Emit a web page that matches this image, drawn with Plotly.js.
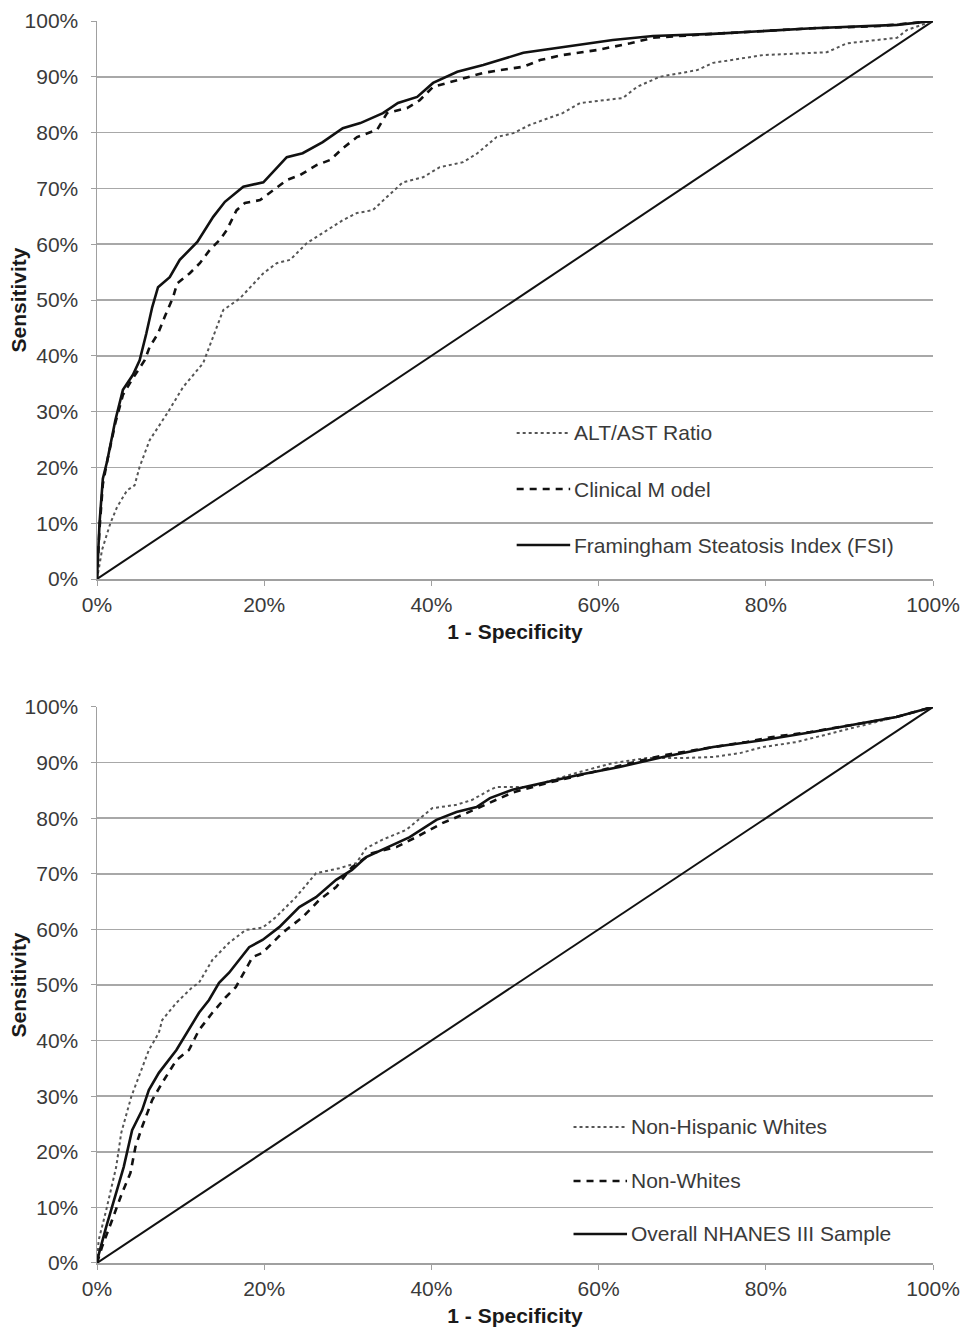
<!DOCTYPE html>
<html><head><meta charset="utf-8">
<script src="https://cdn.plot.ly/plotly-3.0.1.min.js"></script>
<style>body{margin:0;background:#fff}#c{width:966px;height:1332px}</style>
</head><body><div id="c"></div>
<script>
// ---- Top panel data (1 - specificity %, sensitivity %) ----
const fsiX = [0,0.3,0.7,1.2,2.2,3.1,4.3,5.1,5.9,6.6,7.3,8.7,9.9,12,13.9,15.3,17.5,19.9,22.7,24.6,27,29.4,31.5,34.2,36,38.3,40.2,43.1,46.2,49.2,51,53.3,57,61.7,66.5,73.7,85.6,95.7,100];
const fsiY = [0,10,18,21,28.5,33.9,36.6,39.2,44,48.7,52.3,54.1,57.2,60.4,64.9,67.6,70.3,71.1,75.6,76.3,78.3,80.8,81.7,83.5,85.3,86.4,88.9,90.9,92.1,93.5,94.3,94.8,95.6,96.6,97.3,97.7,98.7,99.3,100];
const cliX = [0,0.3,0.7,1.2,2.2,3.1,4.3,5.7,6.3,7.3,8.1,9.1,9.6,11.1,12.3,13.5,14.7,15.5,16.7,17.7,19.5,21.1,22.7,24.3,26.3,27.9,29.4,31.1,33.5,34.7,37.1,38.6,40.2,43.1,46.2,48.2,51,53,55.7,59.8,63.8,66.5,73.7,85.6,93.7,100];
const cliY = [0,9,17,21,28,33,36,39.2,41.6,44,47,50.5,53,54.8,56.6,59,60.8,62.5,66.1,67.4,67.9,69.7,71.5,72.4,74.2,75.1,77.2,79.2,80.5,83.5,84.4,85.8,88.2,89.4,90.7,91.2,91.8,93,93.9,94.8,96,97,97.7,98.7,99.1,100];
const altX = [0,0.6,1.6,2.4,3.6,4.5,5.1,6.3,8.4,10.3,12.7,13.9,15.1,17.1,19.9,21.5,23.1,25.1,27,29.4,31.1,33,34.7,36.6,39,41,43.8,45.5,47.8,49.8,51.8,55.7,57.8,62.9,64.6,67.3,71.8,73.7,79.7,87.3,89.7,95.7,96.9,100];
const altY = [0,5.2,10,12.9,15.9,16.8,20.1,24.9,29.7,34.4,38.7,43.4,48.2,50.3,54.8,56.6,57.2,60.2,62,64.3,65.6,66.1,68.5,71.1,72,73.8,74.7,76.3,79.2,79.9,81.4,83.5,85.3,86.2,88.2,90,91.2,92.5,93.9,94.4,96,97,98.4,100];
// ---- Bottom panel data ----
const allX = [0,0.2,1.1,2.3,3.2,4.2,5.4,6.2,7.4,9.5,11,12.2,13.4,14.6,15.8,18.2,19.8,21.8,24.2,26.2,28.6,30.5,32.2,34.9,37.4,40.6,43,45.4,47,49.7,53.8,57.7,62.5,67.7,73.7,79.6,85.6,91.6,95.6,100];
const allY = [0,1.5,6.5,12.6,17.3,23.9,27.5,31.1,34.2,38.3,41.9,45,47.3,50.4,52.2,56.8,58.1,60.4,64,65.8,68.9,70.7,73,74.8,76.6,79.7,81.1,82,83.6,85.1,86.5,87.8,89.2,91,92.8,94,95.5,97.1,98.2,100];
const nwX = [0,0.6,1.8,3,4,4.6,5.4,6.6,7.8,9.5,11,12.2,13.8,15.4,16.6,18.6,19.8,22.2,24.6,26.6,28.6,30.5,32.9,35.8,38.2,41.3,44.2,46.9,49.7,53.8,57.7,62.5,67.7,71.7,77.7,80.8,85.3,91.6,95.6,100];
const nwY = [0,2.9,7.7,12.6,16.2,20.9,24.5,29.3,32.4,36.5,38.3,41.9,45,47.8,49.6,55,55.8,59.4,62.2,65.3,67.6,71.2,73.7,74.8,76.6,79.1,80.9,82.7,84.6,86.3,87.7,89.3,91.3,92.3,93.7,94.6,95.5,97.1,98.2,100];
const nhwX = [0,0.2,1.1,1.7,2.3,2.9,4.1,5,6.2,7.4,7.8,9.5,11.4,12.2,13.8,15.8,17.8,19.8,21.4,23.8,26.2,29,31,32.2,34.1,37,38.9,40.1,43,44.9,47,47.8,51.7,57.7,61.7,65.7,69.7,73.7,76.9,79.7,83.7,86.1,88.5,95.6,100];
const nhwY = [0,4.1,9.5,13.7,17.3,23.4,29.9,33.5,38.3,41.4,43.7,46.8,49.6,50.4,54.5,57.6,59.9,60.3,62.2,65.8,70.1,71,71.9,74.6,76.1,77.9,80.2,81.8,82.4,83.3,85.1,85.6,85.6,88.3,89.9,90.8,90.8,91,91.7,92.8,93.7,94.6,95.6,98.2,100];
const refX = [0,100];
const refY = [0,100];
const tickVals = [0,10,20,30,40,50,60,70,80,90,100];
const tickText = ['0%','10%','20%','30%','40%','50%','60%','70%','80%','90%','100%'];
const xTickVals = [0,20,40,60,80,100];
const xTickText = ['0%','20%','40%','60%','80%','100%'];
const topNames = ['ALT/AST Ratio','Clinical M odel','Framingham Steatosis Index (FSI)'];
const botNames = ['Non-Hispanic Whites','Non-Whites','Overall NHANES III Sample'];

const DOT = {color:'#555', width:2, dash:'dot'};
const DASH = {color:'#111', width:2.6, dash:'7px,6px'};
const SOLID = {color:'#111', width:2.6};
const DIAG = {color:'#111', width:2};

const traces = [
  {x:refX,y:refY,xaxis:'x',yaxis:'y',mode:'lines',line:DIAG,showlegend:false},
  {x:altX,y:altY,xaxis:'x',yaxis:'y',mode:'lines',line:DOT,showlegend:false,name:topNames[0]},
  {x:cliX,y:cliY,xaxis:'x',yaxis:'y',mode:'lines',line:DASH,showlegend:false,name:topNames[1]},
  {x:fsiX,y:fsiY,xaxis:'x',yaxis:'y',mode:'lines',line:SOLID,showlegend:false,name:topNames[2]},
  {x:refX,y:refY,xaxis:'x2',yaxis:'y2',mode:'lines',line:DIAG,showlegend:false},
  {x:nhwX,y:nhwY,xaxis:'x2',yaxis:'y2',mode:'lines',line:DOT,showlegend:false,name:botNames[0]},
  {x:nwX,y:nwY,xaxis:'x2',yaxis:'y2',mode:'lines',line:DASH,showlegend:false,name:botNames[1]},
  {x:allX,y:allY,xaxis:'x2',yaxis:'y2',mode:'lines',line:SOLID,showlegend:false,name:botNames[2]}
];

const FAM = 'Arial, Liberation Sans, sans-serif';
const FONT = {family:FAM, size:21, color:'#3a3a3a'};
const TFONT = {family:FAM, size:21, color:'#1a1a1a'};
const xax = (anchor)=>({range:[0,100],tickvals:xTickVals,ticktext:xTickText,showgrid:false,zeroline:false,
  showline:true,linecolor:'#a0a0a0',linewidth:1.5,ticks:'outside',ticklen:5,tickcolor:'#a0a0a0',anchor:anchor,
  ticklabelstandoff:1,tickfont:FONT,title:{text:'<b>1 - Specificity</b>',font:TFONT,standoff:9}});
const yax = (dom,anchor)=>({range:[0,100],domain:dom,tickvals:tickVals,ticktext:tickText,showgrid:true,gridcolor:'#a8a8a8',gridwidth:1.5,
  zeroline:false,showline:true,linecolor:'#a0a0a0',linewidth:1.5,ticks:'outside',ticklen:5,tickcolor:'#a0a0a0',anchor:anchor,
  ticklabelstandoff:8,tickfont:FONT,title:{text:'<b>Sensitivity</b>',font:TFONT,standoff:0}});

// Legend drawn as shapes + annotations
const shapes = [];
const annotations = [];
function legend(xr, yr, names, x0, x1, ys){
  const styles=[DOT,DASH,SOLID];
  names.forEach((n,i)=>{
    shapes.push({type:'line',xref:xr,yref:yr,x0:x0,x1:x1,y0:ys[i],y1:ys[i],line:styles[i]});
    annotations.push({xref:xr,yref:yr,x:x1+0.002,y:ys[i],text:n,showarrow:false,xanchor:'left',yanchor:'middle',font:FONT});
  });
}
legend('x domain','y domain',topNames,0.502,0.566,[0.2617,0.1613,0.0609]);
legend('x2 domain','y2 domain',botNames,0.570,0.634,[0.2446,0.1475,0.0522]);

const layout = {
  width:966,height:1332,paper_bgcolor:'#fff',plot_bgcolor:'#fff',
  margin:{l:97,r:33,t:21,b:69},
  showlegend:false,
  xaxis:Object.assign(xax('y'),{domain:[0,1]}),
  yaxis:yax([0.5507,1],'x'),
  xaxis2:Object.assign(xax('y2'),{domain:[0,1]}),
  yaxis2:yax([0,0.4477],'x2'),
  shapes:shapes, annotations:annotations
};
Plotly.newPlot('c',traces,layout,{displayModeBar:false,staticPlot:true}).then(()=>{
  // nudge y-axis titles slightly right to match reference placement
  document.querySelectorAll('.g-ytitle text, .g-y2title text').forEach(t=>{
    const tr = t.getAttribute('transform')||'';
    t.setAttribute('transform', 'translate(7,0) ' + tr);
  });
});
</script></body></html>
